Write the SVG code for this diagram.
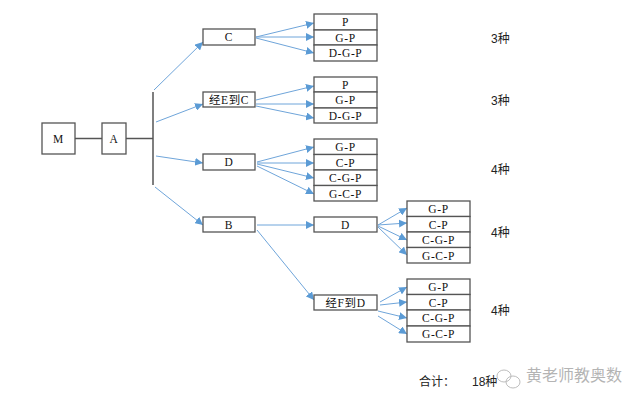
<svg xmlns="http://www.w3.org/2000/svg" width="640" height="401" viewBox="0 0 640 401">
<style>
.box{fill:#fff;stroke:#555;stroke-width:1.3}
.t{font-family:"Liberation Serif","Noto Sans CJK SC",serif;font-size:11.5px;letter-spacing:0.6px;fill:#111;text-anchor:middle}
.lbl{font-family:"Liberation Sans","Noto Sans CJK SC",sans-serif;font-size:12px;fill:#222}
.blk{stroke:#555;stroke-width:1.5;fill:none}
.arr{stroke:#6fa5da;stroke-width:1;fill:none;marker-end:url(#ah)}
</style>
<defs>
<marker id="ah" viewBox="0 0 10 10" refX="10" refY="5" markerWidth="8" markerHeight="8" markerUnits="userSpaceOnUse" orient="auto">
<path d="M0,0 L10,5 L0,10 z" fill="#5b9bd5"/>
</marker>
</defs>
<rect width="640" height="401" fill="#fff"/>
<g id="connectors">
<line class="blk" x1="75" y1="138.5" x2="102" y2="138.5"/>
<line class="blk" x1="126" y1="138.5" x2="153" y2="138.5"/>
<line class="blk" x1="153" y1="92" x2="153" y2="185"/>
<line class="arr" x1="154" y1="90" x2="203" y2="42"/>
<line class="arr" x1="156" y1="122" x2="203" y2="104"/>
<line class="arr" x1="156" y1="156" x2="203" y2="163"/>
<line class="arr" x1="155" y1="187" x2="203" y2="225"/>
<line class="arr" x1="256" y1="37" x2="314" y2="23"/>
<line class="arr" x1="256" y1="37" x2="314" y2="37"/>
<line class="arr" x1="256" y1="38" x2="314" y2="53"/>
<line class="arr" x1="256" y1="100" x2="314" y2="86"/>
<line class="arr" x1="256" y1="104" x2="314" y2="104"/>
<line class="arr" x1="256" y1="106" x2="314" y2="118"/>
<line class="arr" x1="257" y1="162" x2="314" y2="147"/>
<line class="arr" x1="257" y1="163" x2="314" y2="163"/>
<line class="arr" x1="257" y1="164" x2="314" y2="178"/>
<line class="arr" x1="257" y1="166" x2="314" y2="194"/>
<line class="arr" x1="257" y1="225" x2="314" y2="225"/>
<line class="arr" x1="257" y1="230" x2="314" y2="300"/>
<line class="arr" x1="378" y1="225" x2="407" y2="208"/>
<line class="arr" x1="378" y1="225" x2="407" y2="223"/>
<line class="arr" x1="378" y1="226" x2="407" y2="240"/>
<line class="arr" x1="378" y1="227" x2="407" y2="255"/>
<line class="arr" x1="380" y1="302" x2="407" y2="287"/>
<line class="arr" x1="380" y1="305" x2="407" y2="302"/>
<line class="arr" x1="378" y1="311" x2="407" y2="318"/>
<line class="arr" x1="378" y1="316" x2="407" y2="334"/>
</g>
<g id="M"><rect class="box" x="42" y="123" width="33" height="31"/><text class="t" x="58.5" y="142.5">M</text></g>
<g id="A"><rect class="box" x="102" y="123" width="24" height="31"/><text class="t" x="114" y="142.5">A</text></g>
<g id="C"><rect class="box" x="203" y="29" width="52" height="16"/><text class="t" x="229" y="41">C</text></g>
<g id="EC"><rect class="box" x="203" y="92" width="52" height="15"/><text class="t" x="229" y="104">经E到C</text></g>
<g id="D"><rect class="box" x="203" y="154" width="52" height="16"/><text class="t" x="229" y="166">D</text></g>
<g id="B"><rect class="box" x="203" y="217" width="52" height="15"/><text class="t" x="229" y="229">B</text></g>
<g id="D2"><rect class="box" x="314" y="217" width="63" height="15"/><text class="t" x="345.5" y="229">D</text></g>
<g id="FD"><rect class="box" x="314" y="295" width="63" height="15"/><text class="t" x="345.5" y="307">经F到D</text></g>
<g id="R1">
<rect class="box" x="314" y="14" width="63" height="16"/><text class="t" x="345.5" y="26">P</text>
<rect class="box" x="314" y="30" width="63" height="15"/><text class="t" x="345.5" y="41.5">G-P</text>
<rect class="box" x="314" y="45" width="63" height="16"/><text class="t" x="345.5" y="57">D-G-P</text>
</g>
<g id="R2">
<rect class="box" x="314" y="77" width="63" height="15"/><text class="t" x="345.5" y="88.5">P</text>
<rect class="box" x="314" y="92" width="63" height="16"/><text class="t" x="345.5" y="104">G-P</text>
<rect class="box" x="314" y="108" width="63" height="15"/><text class="t" x="345.5" y="119.5">D-G-P</text>
</g>
<g id="R3">
<rect class="box" x="314" y="139" width="63" height="15.5"/><text class="t" x="345.5" y="151">G-P</text>
<rect class="box" x="314" y="154.5" width="63" height="15.5"/><text class="t" x="345.5" y="166.5">C-P</text>
<rect class="box" x="314" y="170" width="63" height="15.5"/><text class="t" x="345.5" y="182">C-G-P</text>
<rect class="box" x="314" y="185.5" width="63" height="15.5"/><text class="t" x="345.5" y="197.5">G-C-P</text>
</g>
<g id="R4">
<rect class="box" x="407" y="201" width="63" height="15.5"/><text class="t" x="438.5" y="213">G-P</text>
<rect class="box" x="407" y="216.5" width="63" height="15.5"/><text class="t" x="438.5" y="228.5">C-P</text>
<rect class="box" x="407" y="232" width="63" height="15.5"/><text class="t" x="438.5" y="244">C-G-P</text>
<rect class="box" x="407" y="247.5" width="63" height="15.5"/><text class="t" x="438.5" y="259.5">G-C-P</text>
</g>
<g id="R5">
<rect class="box" x="407" y="279" width="63" height="15.5"/><text class="t" x="438.5" y="291">G-P</text>
<rect class="box" x="407" y="294.5" width="63" height="15.5"/><text class="t" x="438.5" y="306.5">C-P</text>
<rect class="box" x="407" y="310" width="63" height="16"/><text class="t" x="438.5" y="322">C-G-P</text>
<rect class="box" x="407" y="326" width="63" height="16"/><text class="t" x="438.5" y="338">G-C-P</text>
</g>
<g id="counts">
<text class="lbl" x="491" y="43">3种</text>
<text class="lbl" x="491" y="105">3种</text>
<text class="lbl" x="491" y="174">4种</text>
<text class="lbl" x="491" y="237">4种</text>
<text class="lbl" x="491" y="315">4种</text>
<text class="lbl" x="419" y="386">合计：</text>
<text class="lbl" x="472" y="386">18种</text>
</g>
<g id="watermark" opacity="0.55">
<ellipse cx="504" cy="376" rx="7" ry="6" fill="none" stroke="#888" stroke-width="1"/>
<ellipse cx="513" cy="382" rx="7" ry="6" fill="none" stroke="#888" stroke-width="1"/>
<text x="526" y="381" font-family="Noto Sans CJK SC,sans-serif" font-size="16" fill="#777">黄老师教奥数</text>
</g>
</svg>
